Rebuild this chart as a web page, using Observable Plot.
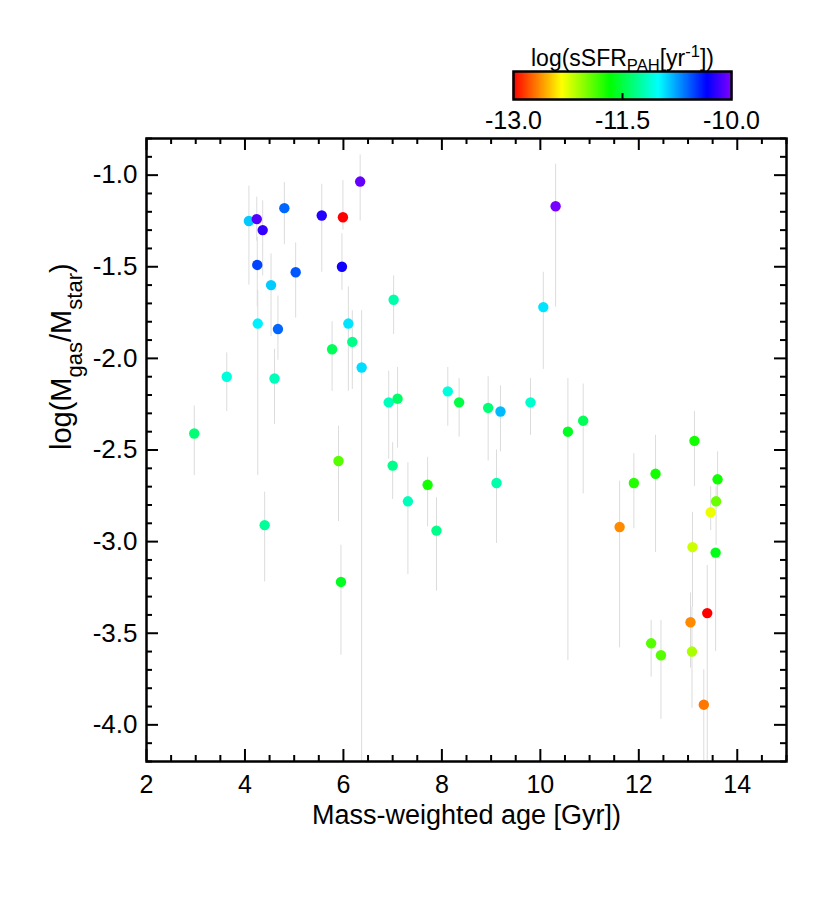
<!DOCTYPE html>
<html><head><meta charset="utf-8">
<script src="https://cdn.jsdelivr.net/npm/d3@7"></script>
<script src="https://cdn.jsdelivr.net/npm/@observablehq/plot@0.6"></script>
<style>
body{margin:0;background:#fff;}
#wrap{position:relative;width:830px;height:900px;background:#fff;}
#wrap svg{position:absolute;left:0;top:0;overflow:visible;}
</style></head><body><div id="wrap"></div>
<script>
// Mass-weighted age [Gyr]
const age = [4.08,4.24,4.36,4.80,5.56,5.99,6.34,4.25,5.03,5.97,4.53,4.26,4.67,6.10,7.02,5.77,6.18,6.37,3.63,4.60,6.92,7.10,8.12,8.35,2.97,8.94,9.19,9.80,10.06,10.31,10.56,10.87,13.13,4.40,5.90,5.95,7.00,7.31,7.71,7.89,9.11,11.90,12.34,13.60,13.57,13.46,11.61,13.09,13.56,13.39,13.05,12.25,12.45,13.08,13.32];
// log(Mgas/Mstar)
const logGas = [-1.25,-1.24,-1.30,-1.18,-1.22,-1.23,-1.035,-1.49,-1.53,-1.50,-1.60,-1.81,-1.84,-1.81,-1.68,-1.95,-1.91,-2.05,-2.10,-2.11,-2.24,-2.22,-2.18,-2.24,-2.41,-2.27,-2.29,-2.24,-1.72,-1.17,-2.40,-2.34,-2.45,-2.91,-2.56,-3.22,-2.585,-2.78,-2.69,-2.94,-2.68,-2.68,-2.63,-2.66,-2.78,-2.84,-2.92,-3.03,-3.06,-3.39,-3.44,-3.555,-3.62,-3.60,-3.89];
// error bar upper / lower ends
const errHi = [-1.06,-1.12,-1.14,-1.04,-1.05,-1.03,-0.89,-1.34,-1.37,-1.32,-1.43,-1.63,-1.66,-1.61,-1.55,-1.80,-1.74,-1.74,-1.97,-1.95,-2.07,-2.05,-2.05,-2.11,-2.26,-2.10,-2.15,-2.11,-1.53,-0.94,-2.11,-2.14,-2.29,-2.73,-2.37,-3.02,-2.46,-2.57,-2.54,-2.76,-2.50,-2.52,-2.42,-2.51,-2.70,-2.70,-2.67,-2.84,-3.06,-3.13,-3.28,-3.43,-3.43,-3.36,-3.70];
const errLo = [-1.60,-1.36,-1.55,-1.38,-1.53,-1.30,-1.25,-1.72,-1.78,-1.63,-1.88,-2.64,-2.01,-2.18,-1.87,-2.18,-2.17,-4.50,-2.29,-2.36,-2.55,-2.49,-2.37,-2.43,-2.64,-2.56,-2.51,-2.42,-2.06,-1.72,-3.65,-2.74,-2.70,-3.22,-2.89,-3.62,-2.77,-3.18,-2.92,-3.27,-3.01,-2.93,-3.06,-2.77,-3.02,-2.94,-3.58,-3.36,-3.60,-4.50,-3.69,-3.74,-3.97,-3.91,-4.50];
// log(sSFR_PAH [yr^-1])
const sSFR = [-10.86,-10.11,-10.20,-10.60,-10.24,-13.0,-10.07,-10.51,-10.56,-10.29,-10.87,-10.96,-10.60,-10.93,-11.22,-11.44,-11.31,-10.91,-11.09,-11.18,-11.18,-11.40,-11.09,-11.49,-11.36,-11.36,-10.82,-11.13,-10.93,-10.02,-11.58,-11.44,-11.71,-11.27,-11.89,-11.58,-11.31,-11.18,-11.71,-11.31,-11.22,-11.76,-11.71,-11.71,-11.94,-12.28,-12.64,-12.20,-11.61,-13.0,-12.64,-11.89,-11.89,-12.11,-12.69];

const xTicks = [2,4,6,8,10,12,14];
const yTicks = [-1.0,-1.5,-2.0,-2.5,-3.0,-3.5,-4.0];
const cbTicks = [-13.0,-11.5,-10.0];
const xTitle = "Mass-weighted age [Gyr])";
const yTitleParts = [["log(M","n"],["gas","sub"],["/M","n"],["star","sub"],[")","n"]];
const cbTitleParts = [["log(sSFR","n"],["PAH","sub"],["[yr","n"],["-1","sup"],["])","n"]];

const data = age.map((a,i)=>({age:a, gas:logGas[i], hi:errHi[i], lo:errLo[i], s:sSFR[i]}));

const FONT = "'Liberation Sans', Arial, Helvetica, sans-serif";
const colorScale = {type:"linear", domain:[-13,-10], range:["hsl(0,100%,50%)","hsl(270,100%,50%)"], interpolate: d3.interpolateHslLong};

const W = 830, H = 850, mt = 138, mb = 89, ml = 146, mr = 44;
const fh = H - mt - mb, fw = W - ml - mr;
const xMinor = d3.range(2, 15.001, 0.5).filter(v => !xTicks.includes(v));
const yMinor = d3.range(-42, -7, 1).map(v => v/10).filter(v => !yTicks.some(t => Math.abs(t-v) < 1e-9));

const tickStyle = {stroke:"black", strokeWidth:2};
const main = Plot.plot({
  width: W, height: H, marginTop: mt, marginBottom: mb, marginLeft: ml, marginRight: mr,
  style: {fontFamily: FONT, color: "black", background: "transparent"},
  x: {domain:[2,15]},
  y: {domain:[-4.2,-0.8]},
  color: colorScale,
  marks: [
    Plot.ruleX(data, {x:"age", y1:"lo", y2:"hi", stroke:"#dcdcdc", strokeWidth:1, clip:true}),
    Plot.dot(data, {x:"age", y:"gas", fill:"s", r:5.2}),
    Plot.tickX(xTicks, {x:d=>d, insetTop: fh-12, ...tickStyle}),
    Plot.tickX(xTicks, {x:d=>d, insetBottom: fh-12, ...tickStyle}),
    Plot.tickX(xMinor, {x:d=>d, insetTop: fh-6, ...tickStyle}),
    Plot.tickX(xMinor, {x:d=>d, insetBottom: fh-6, ...tickStyle}),
    Plot.tickY(yTicks, {y:d=>d, insetRight: fw-12, ...tickStyle}),
    Plot.tickY(yTicks, {y:d=>d, insetLeft: fw-12, ...tickStyle}),
    Plot.tickY(yMinor, {y:d=>d, insetRight: fw-6, ...tickStyle}),
    Plot.tickY(yMinor, {y:d=>d, insetLeft: fw-6, ...tickStyle}),
    Plot.frame({stroke:"black", strokeWidth:2.5}),
    Plot.axisX(xTicks, {anchor:"bottom", tickSize:0, tickPadding:14, tickFormat:d=>String(d), fontSize:25, label:null}),
    Plot.axisY(yTicks, {anchor:"left", tickSize:0, tickPadding:9, tickFormat:d=>d.toFixed(1), fontSize:26, label:null}),
    Plot.text([xTitle], {text:d=>d, frameAnchor:"bottom", dy:62, fontSize:27, fill:"black"}),
    Plot.text(["YTITLE"], {text:d=>d, frameAnchor:"left", dx:-85, rotate:-90, fontSize:29, fill:"black"})
  ]
});

const cbW = 830, cbH = 140, cbmt = 71, cbmb = 41, cbml = 513, cbmr = 99;
const cbRamp = d3.range(-13, -9.999, 0.01);
const cb = Plot.plot({
  width: cbW, height: cbH, marginTop: cbmt, marginBottom: cbmb, marginLeft: cbml, marginRight: cbmr,
  style: {fontFamily: FONT, color: "black", background: "transparent"},
  x: {domain:[-13,-10]},
  color: colorScale,
  marks: [
    Plot.ruleX(cbRamp, {x:d=>d, stroke:d=>d, strokeWidth:1.6}),
    Plot.tickX([-11.5], {x:d=>d, insetTop: cbH-cbmt-cbmb-6, stroke:"black", strokeWidth:2}),
    Plot.frame({stroke:"black", strokeWidth:2.5}),
    Plot.axisX(cbTicks, {anchor:"bottom", tickSize:0, tickPadding:12, tickFormat:d=>d.toFixed(1), fontSize:25, label:null}),
    Plot.text(["CBTITLE"], {text:d=>d, frameAnchor:"top", dy:-22, fontSize:23, fill:"black"})
  ]
});

function rich(svg, key, parts, fs, subScale, subShift, supShift) {
  const el = Array.from(svg.querySelectorAll("text")).find(t => t.textContent === key);
  if (!el) return;
  const t = d3.select(el);
  t.text(null);
  let off = 0;
  for (const [s, k] of parts) {
    const target = k === "sub" ? subShift : k === "sup" ? -supShift : 0;
    const ts = t.append("tspan").text(s);
    if (k !== "n") ts.attr("font-size", fs*subScale);
    if (target !== off) { ts.attr("dy", target - off); off = target; }
  }
}
rich(main, "YTITLE", yTitleParts, 29, 0.76, 11, 0);
rich(cb, "CBTITLE", cbTitleParts, 23, 0.72, 5, 9);

const wrap = document.getElementById("wrap");
wrap.appendChild(main);
wrap.appendChild(cb);
</script></body></html>
